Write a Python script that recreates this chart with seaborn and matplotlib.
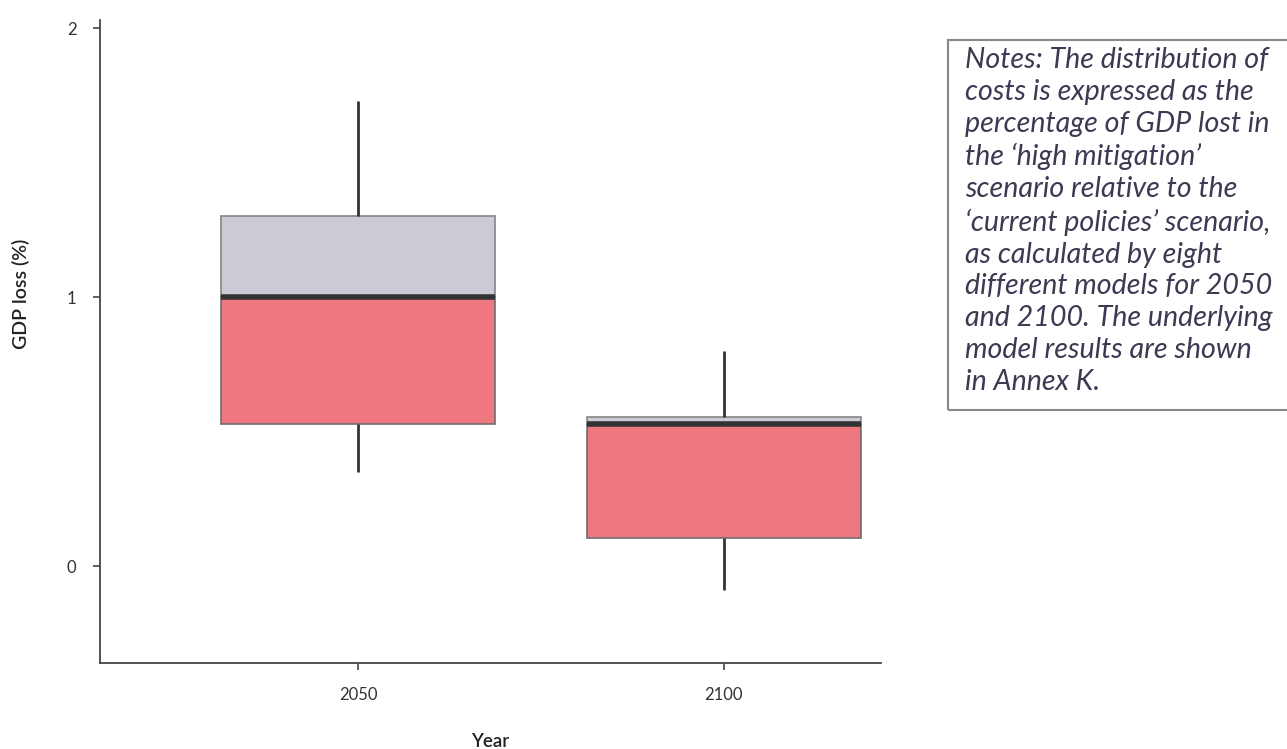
import matplotlib
matplotlib.use("Agg")
import matplotlib.pyplot as plt
import pandas as pd
import seaborn as sns

# summary statistics (GDP loss, %)
years = ["2050", "2100"]
whisker_low = [0.35, -0.09]
q1 = [0.53, 0.105]
median = [1.0, 0.53]
q3 = [1.30, 0.555]
whisker_high = [1.73, 0.80]

notes = ("Notes: The distribution of\n"
         "costs is expressed as the\n"
         "percentage of GDP lost in\n"
         "the \u2018high mitigation\u2019\n"
         "scenario relative to the\n"
         "\u2018current policies\u2019 scenario,\n"
         "as calculated by eight\n"
         "different models for 2050\n"
         "and 2100. The underlying\n"
         "model results are shown\n"
         "in Annex K.")

sns.set_theme(style="ticks")
plt.rcParams["font.family"] = ["Lato", "DejaVu Sans"]

lower = pd.DataFrame({"Year": years, "h": [m - a for m, a in zip(median, q1)]})
upper = pd.DataFrame({"Year": years, "h": [b - m for b, m in zip(q3, median)]})

fig = plt.figure(figsize=(12.87, 7.49), dpi=100)
ax = fig.add_axes([100 / 1287, 1 - 663 / 749, 781 / 1287, 643 / 749])

# upper half of box (median -> Q3)
sns.barplot(data=upper, x="Year", y="h", ax=ax, color="#cdcad6", saturation=1,
            width=0.75, errorbar=None, bottom=median,
            edgecolor="#858585", linewidth=1.2)
# lower half of box (Q1 -> median)
sns.barplot(data=lower, x="Year", y="h", ax=ax, color="#ef7880", saturation=1,
            width=0.75, errorbar=None, bottom=q1,
            edgecolor="#6e6e6e", linewidth=1.2)

pos = range(len(years))
ax.vlines(pos, q3, whisker_high, color="#333333", lw=2)
ax.vlines(pos, whisker_low, q1, color="#333333", lw=2)
ax.hlines(median, [p - 0.375 for p in pos], [p + 0.375 for p in pos],
          color="#333333", lw=4)

ax.set_xlim(-0.707, 1.43)
ax.set_ylim(-0.36, 2.03)
ax.set_yticks([0, 1, 2])
sns.despine(ax=ax)
for s in ["left", "bottom"]:
    ax.spines[s].set_color("#444444")
    ax.spines[s].set_linewidth(1.3)
ax.tick_params(axis="both", colors="#444444", labelcolor="#333333",
               labelsize=12, length=5, width=1.2, pad=12)

ax.set_ylabel("GDP loss (%)", fontsize=14, fontweight="semibold", color="#222222")
ax.set_xlabel("Year", fontsize=13.5, fontweight="semibold", color="#222222")
ax.yaxis.set_label_coords(-0.09, 0.574)
ax.xaxis.set_label_coords(0.5, -0.109)

fig.text(965 / 1287, 1 - 47 / 749, notes, fontsize=20.6, style="italic",
         color="#3a3a52", va="top", ha="left", linespacing=1.28)
fig.patches.append(plt.Rectangle((948 / 1287, 1 - 410 / 749),
                                 0.5, (410 - 40) / 749,
                                 transform=fig.transFigure,
                                 fc="none", ec="#888888", lw=1.5))

fig.savefig("out.png", dpi=100)
